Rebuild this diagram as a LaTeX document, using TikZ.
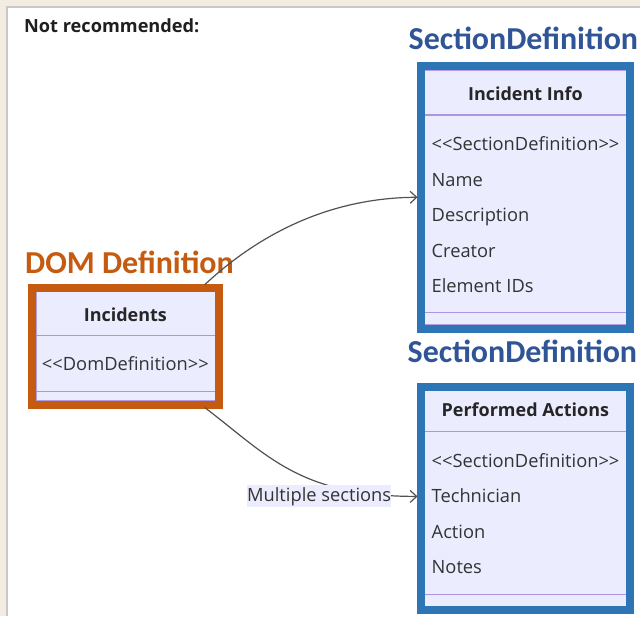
\documentclass[tikz,border=0pt]{standalone}
\usepackage{fontspec}
\setmainfont{Open Sans}
\newfontfamily\calfont{Carlito}
\usetikzlibrary{arrows.meta,calc}
\definecolor{pagebeige}{HTML}{F3ECE3}
\definecolor{framegray}{HTML}{C8C8C8}
\definecolor{sectblue}{HTML}{2E75B6}
\definecolor{titleblue}{HTML}{2F5597}
\definecolor{domorange}{HTML}{C55A11}
\definecolor{classfill}{HTML}{ECECFF}
\definecolor{classline}{HTML}{9370DB}
\definecolor{textgray}{HTML}{333333}

\begin{document}
\begin{tikzpicture}[x=1pt,y=-1pt,>={Straight Barb[length=6.5pt,width=12pt]},
    classbox/.style={draw=classline!70,fill=classfill,anchor=north west,inner sep=0pt,outer sep=0pt},
    divider/.style={draw=classline!75,line width=1.3pt},
    member/.style={anchor=base west,inner sep=0pt,text=textgray,font=\fontsize{18.3}{21}\selectfont},
    header/.style={anchor=base,inner sep=0pt,text=black!85,font=\fontsize{18}{21}\selectfont\bfseries},
    bigtitle/.style={anchor=base west,inner sep=0pt,font=\calfont\bfseries\fontsize{32}{36}\selectfont},
    edge/.style={->,draw=textgray!85,line width=1.2pt}]
  % page and panel
  \fill[pagebeige] (0,0) rectangle (641,617);
  \fill[white] (7,7) rectangle (641,617);
  \draw[framegray,line width=1.5pt] (7,617) -- (7,7) -- (641,7);
  \useasboundingbox (0,0) rectangle (641,617);

  \node[anchor=base west,inner sep=0pt,text=black!88,font=\fontsize{18.2}{21}\selectfont\bfseries] (note) at (24,33) {Not recommended:};

  % class boxes
  \node[classbox,minimum width=179pt,minimum height=109pt] (dom) at (36,292) {};
  \node[classbox,minimum width=202pt,minimum height=255pt] (info) at (425,70) {};
  \node[classbox,minimum width=202pt,minimum height=216pt] (perf) at (425,391) {};
  \draw[domorange,line width=8pt] ($(dom.north west)+(-4,-4)$) rectangle ($(dom.south east)+(4,4)$);
  \draw[sectblue,line width=8pt] ($(info.north west)+(-4,-4)$) rectangle ($(info.south east)+(4,4)$);
  \draw[sectblue,line width=8pt] ($(perf.north west)+(-4,-4)$) rectangle ($(perf.south east)+(4,4)$);
  \draw[divider] ($(dom.north west)+(0,44)$) -- ($(dom.north east)+(0,44)$);
  \draw[divider] ($(dom.south west)+(0,-9)$) -- ($(dom.south east)+(0,-9)$);
  \draw[divider] ($(info.north west)+(0,45)$) -- ($(info.north east)+(0,45)$);
  \draw[divider] ($(info.south west)+(0,-12)$) -- ($(info.south east)+(0,-12)$);
  \draw[divider] ($(perf.north west)+(0,41)$) -- ($(perf.north east)+(0,41)$);
  \draw[divider] ($(perf.south west)+(0,-12)$) -- ($(perf.south east)+(0,-12)$);

  % box texts
  \node[header] (domname) at (125.5,322) {Incidents};
  \node[member,anchor=base] (domtag) at (125.5,371) {<{}<DomDefinition>{}>};

  \node[header] (infoname) at (526,101) {Incident Info};
  \node[member] (infotag) at (432,151) {<{}<SectionDefinition>{}>};
  \node[member] (infoa) at (432,187) {Name};
  \node[member] (infob) at (432,222) {Description};
  \node[member] (infoc) at (432,258) {Creator};
  \node[member] (infod) at (432,293) {Element IDs};

  \node[header] (perfname) at (526,417) {Performed Actions};
  \node[member] (perftag) at (432,468) {<{}<SectionDefinition>{}>};
  \node[member] (perfa) at (432,503) {Technician};
  \node[member] (perfb) at (432,539) {Action};
  \node[member] (perfc) at (432,574) {Notes};

  % titles over the boxes
  \node[bigtitle,text=domorange] (domtitle) at (25,274) {DOM Definition};
  \node[bigtitle,text=titleblue] (infotitle) at (409,50) {SectionDefinition};
  \node[bigtitle,text=titleblue] (perftitle) at (408,363) {SectionDefinition};

  % links
  \draw[edge] ($(dom.north east)+(-10,-7)$) .. controls (250,243) and (320,198) .. ($(info.west)+(-7,0)$);
  \draw[edge] ($(dom.south east)+(-10,7)$) .. controls (268,456) and (300,497) .. ($(perf.north west)+(-7,106)$);
  \node[fill=classfill,inner sep=0pt,minimum height=22pt,text=textgray,font=\fontsize{18.3}{21}\selectfont] (multi) at (319.5,497) {Multiple sections};
\end{tikzpicture}
\end{document}
